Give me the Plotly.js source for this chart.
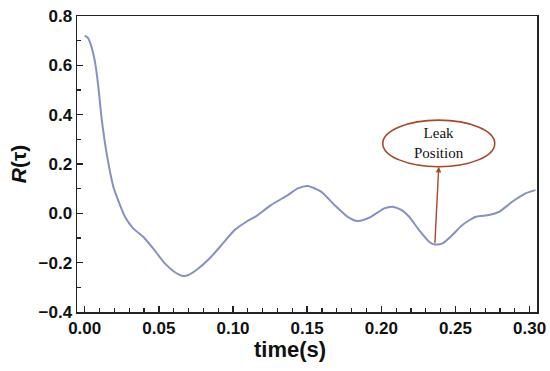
<!DOCTYPE html>
<html><head><meta charset="utf-8">
<script src="https://cdn.plot.ly/plotly-3.0.1.min.js"></script>
<style>body{margin:0;padding:0;background:#fff}#chart{width:550px;height:371px}</style>
</head><body><div id="chart"></div>
<script>
var timeS = [0.0000,0.0020,0.0040,0.0069,0.0092,0.0114,0.0148,0.0193,0.0215,0.0240,0.0271,0.0327,0.0394,0.0461,0.0540,0.0619,0.0663,0.0700,0.0753,0.0843,0.0932,0.1011,0.1090,0.1160,0.1258,0.1370,0.1437,0.1504,0.1594,0.1684,0.1773,0.1840,0.1930,0.2020,0.2076,0.2140,0.2188,0.2255,0.2322,0.2361,0.2412,0.2479,0.2547,0.2637,0.2726,0.2794,0.2883,0.2973,0.3040];
var rTau  = [0.720,0.712,0.686,0.615,0.513,0.385,0.243,0.108,0.070,0.030,-0.014,-0.061,-0.095,-0.142,-0.203,-0.243,-0.254,-0.250,-0.230,-0.182,-0.122,-0.068,-0.034,-0.010,0.034,0.074,0.101,0.111,0.088,0.034,-0.014,-0.031,-0.014,0.020,0.027,0.012,-0.014,-0.068,-0.115,-0.126,-0.122,-0.088,-0.047,-0.014,-0.007,0.006,0.047,0.081,0.094];
var xTicks = [0.00,0.05,0.10,0.15,0.20,0.25,0.30];
var xTickText = ["0.00","0.05","0.10","0.15","0.20","0.25","0.30"];
var yTicks = [-0.4,-0.2,0.0,0.2,0.4,0.6,0.8];
var yTickText = ["\u22120.4","\u22120.2","0.0","0.2","0.4","0.6","0.8"];
var leakPoint = {x:0.2361, y:-0.126};
var ellipseBox = {x0:0.201, x1:0.2765, y0:0.189, y1:0.378};
var leakLabel = "Leak<br>Position";

var trace = {x:timeS, y:rTau, mode:'lines', type:'scatter',
  line:{color:'#8690c2', width:2, shape:'spline', smoothing:0.6}, hoverinfo:'none'};

var tickFont = {family:'Liberation Sans, Arial', size:17, color:'#111', weight:'bold'};
var axisCommon = {showline:true, linecolor:'#222', linewidth:1.5, mirror:true,
  ticks:'inside', ticklen:6, tickwidth:1.5, tickcolor:'#222', showgrid:false, zeroline:false,
  tickfont:tickFont};

var layout = {
  width:550, height:371,
  margin:{l:77, r:13, t:16, b:59},
  paper_bgcolor:'#fff', plot_bgcolor:'#fff', showlegend:false,
  xaxis: Object.assign({}, axisCommon, {range:[-0.0052,0.305], tickvals:xTicks, ticktext:xTickText,
    minor:{dtick:0.01, ticks:'inside', ticklen:4, tickwidth:1.2, tickcolor:'#222'}}),
  yaxis: Object.assign({}, axisCommon, {range:[-0.4,0.8], tickvals:yTicks, ticktext:yTickText,
    minor:{dtick:0.1, ticks:'inside', ticklen:4, tickwidth:1.2, tickcolor:'#222'},
    title:{text:'<b><i>R</i>(\u03c4)</b>', font:{family:'Liberation Sans, Arial', size:21, color:'#111'}, standoff:6}}),
  shapes:[{type:'circle', xref:'x', yref:'y', x0:ellipseBox.x0, x1:ellipseBox.x1, y0:ellipseBox.y0, y1:ellipseBox.y1,
    line:{color:'#a54a2a', width:1.6}}],
  annotations:[
    {xref:'paper', yref:'paper', x:0.464, y:-0.128, xanchor:'center', yanchor:'middle', showarrow:false,
     text:'<b>time(s)</b>', font:{family:'Liberation Sans, Arial', size:22, color:'#111'}},
    {x:(ellipseBox.x0+ellipseBox.x1)/2, y:(ellipseBox.y0+ellipseBox.y1)/2, xref:'x', yref:'y', text:leakLabel, showarrow:false,
     font:{family:'Liberation Serif, Times New Roman', size:15, color:'#111'}},
    {x:(ellipseBox.x0+ellipseBox.x1)/2, y:ellipseBox.y0, xref:'x', yref:'y', ax:leakPoint.x, ay:leakPoint.y, axref:'x', ayref:'y',
     text:'', showarrow:true, arrowhead:2, arrowsize:0.8, arrowwidth:1.4, arrowcolor:'#a54a2a', standoff:0, startstandoff:0}
  ]
};
Plotly.newPlot('chart',[trace],layout,{displayModeBar:false, staticPlot:true});
</script></body></html>
